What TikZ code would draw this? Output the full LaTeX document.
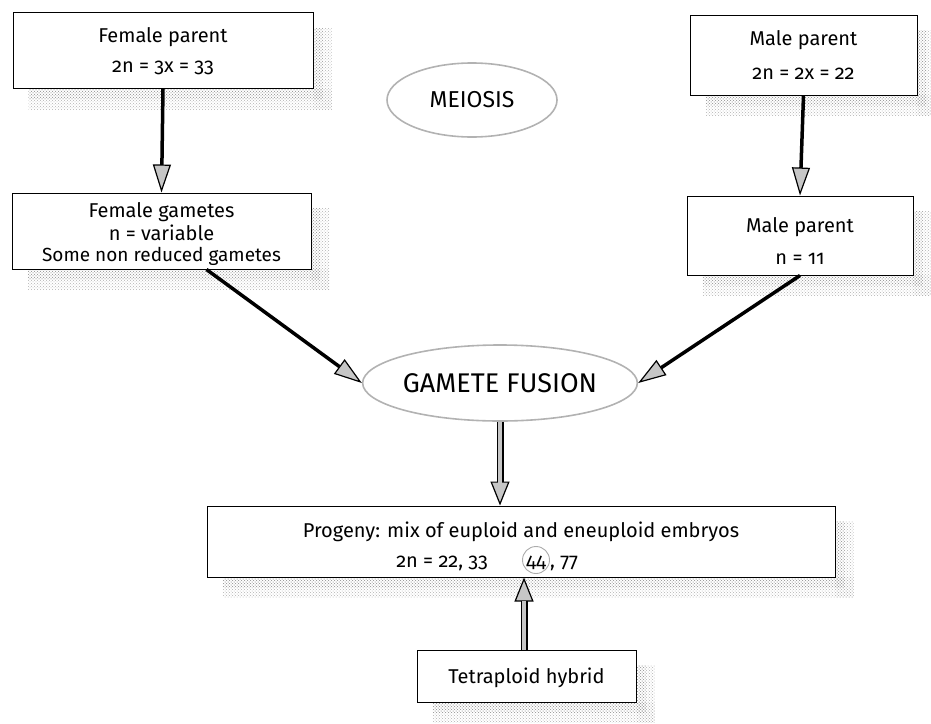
\documentclass[tikz,border=0pt]{standalone}
\usepackage{fontspec}
\setmainfont{Fira Sans}[Numbers=OldStyle]
\usetikzlibrary{arrows.meta,shapes.geometric,patterns,calc}
\pgfdeclarelayer{bg}
\pgfsetlayers{bg,main}
\begin{document}
\begin{tikzpicture}[x=1pt,y=-1pt,
  box/.style={draw=black, line width=1pt, fill=white, rectangle, inner sep=0pt},
  ell/.style={draw=gray!60, line width=1.6pt, ellipse, inner sep=0pt},
  blk/.style={line width=3.5pt, -{Triangle[length=28pt,width=18pt,line width=1.2pt,fill=gray!45]}},
  gtip/.style={line width=7pt, -{Triangle[length=24pt,width=19pt,line width=1.2pt,fill=gray!45]}},
  gin/.style={line width=4pt, draw=gray!45, shorten >=23pt},
  shad/.style={pattern=crosshatch dots, pattern color=gray!60},
  txt/.style={font=\fontsize{20}{24}\selectfont, inner sep=0pt}
]
\useasboundingbox (0,0) rectangle (931,723);

% boxes
\node[box, minimum width=300pt, minimum height=76pt] (fp) at (163,50.5) {};
\node[box, minimum width=227pt, minimum height=80pt] (mp) at (803.5,55) {};
\node[box, minimum width=299pt, minimum height=76pt] (fg) at (161.5,231) {};
\node[box, minimum width=226pt, minimum height=79pt] (mg) at (800,235.5) {};
\node[box, minimum width=628pt, minimum height=71pt] (prog) at (521,541.5) {};
\node[box, minimum width=219pt, minimum height=52pt] (tet) at (526.5,676) {};

% ellipses
\node[ell, minimum width=170pt, minimum height=74pt, font=\fontsize{23}{26}\selectfont] (mei) at (472,100) {MEIOSIS};
\node[ell, minimum width=270pt, minimum height=76pt, font=\fontsize{27}{30}\selectfont] (fus) at (500,383) {GAMETE FUSION};

% texts
\node[txt, anchor=base] (fp1) at (163,42) {Female parent};
\node[txt, anchor=base] (fp2) at (163,72) {2n = 3x = 33};
\node[txt, anchor=base] (mp1) at (803.5,45) {Male parent};
\node[txt, anchor=base] (mp2) at (803.5,79) {2n = 2x = 22};
\node[txt, anchor=base] (fg1) at (161.5,217) {Female gametes};
\node[txt, anchor=base] (fg2) at (161.5,240) {n = variable};
\node[txt, anchor=base, font=\fontsize{19}{22}\selectfont] (fg3) at (161.5,261) {Some non reduced gametes};
\node[txt, anchor=base] (mg1) at (800,232) {Male parent};
\node[txt, anchor=base] (mg2) at (800,264) {n = 11};
\node[txt, anchor=base] (tt1) at (526.5,683) {Tetraploid hybrid};
\node[txt, anchor=base] (p1) at (521,537) {Progeny: mix of euploid and eneuploid embryos};
\node[txt, anchor=base east] (p2a) at (488,567) {2n = 22, 33};
\node[circle, draw=gray!65, line width=0.9pt, minimum size=27pt, inner sep=0pt] (n44) at (536,560) {};
\node[txt, anchor=base] (p2n) at (536,567) {44};
\node[txt, anchor=base west] (p2b) at (n44.east |- p2a.base) {, 77};

% shadows
\begin{pgfonlayer}{bg}
\foreach \b in {fp,mp,fg,mg,prog,tet}{
  \fill[shad] ($(\b.north east)+(0,16)$) rectangle ($(\b.south east)+(18,20)$);
  \fill[shad] ($(\b.south west)+(16,0)$) rectangle ($(\b.south east)+(18,20)$);
  \fill[pattern=crosshatch dots, pattern color=gray!80] ($(\b.north east)+(0,16)$) rectangle ($(\b.south east)+(9,10)$);
  \fill[pattern=crosshatch dots, pattern color=gray!80] ($(\b.south west)+(16,0)$) rectangle ($(\b.south east)+(9,10)$);
}
\end{pgfonlayer}

% connectors
\draw[blk] (fp.south) -- (fg.north);
\draw[blk] (mp.south) -- (mg.north);
\draw[blk] ($(fg.south)+(45,0)$) -- (fus.west);
\draw[blk] (mg.south) -- (fus.east);

\coordinate (ft) at (fus.south |- prog.north);
\draw[gtip] (fus.south) -- (ft);
\draw[gin] (fus.south) -- (ft);
\coordinate (tt) at (tet.north -| 524,0);
\coordinate (pt) at (prog.south -| 524,0);
\draw[gtip] (tt) -- (pt);
\draw[gin] (tt) -- (pt);
\end{tikzpicture}
\end{document}
